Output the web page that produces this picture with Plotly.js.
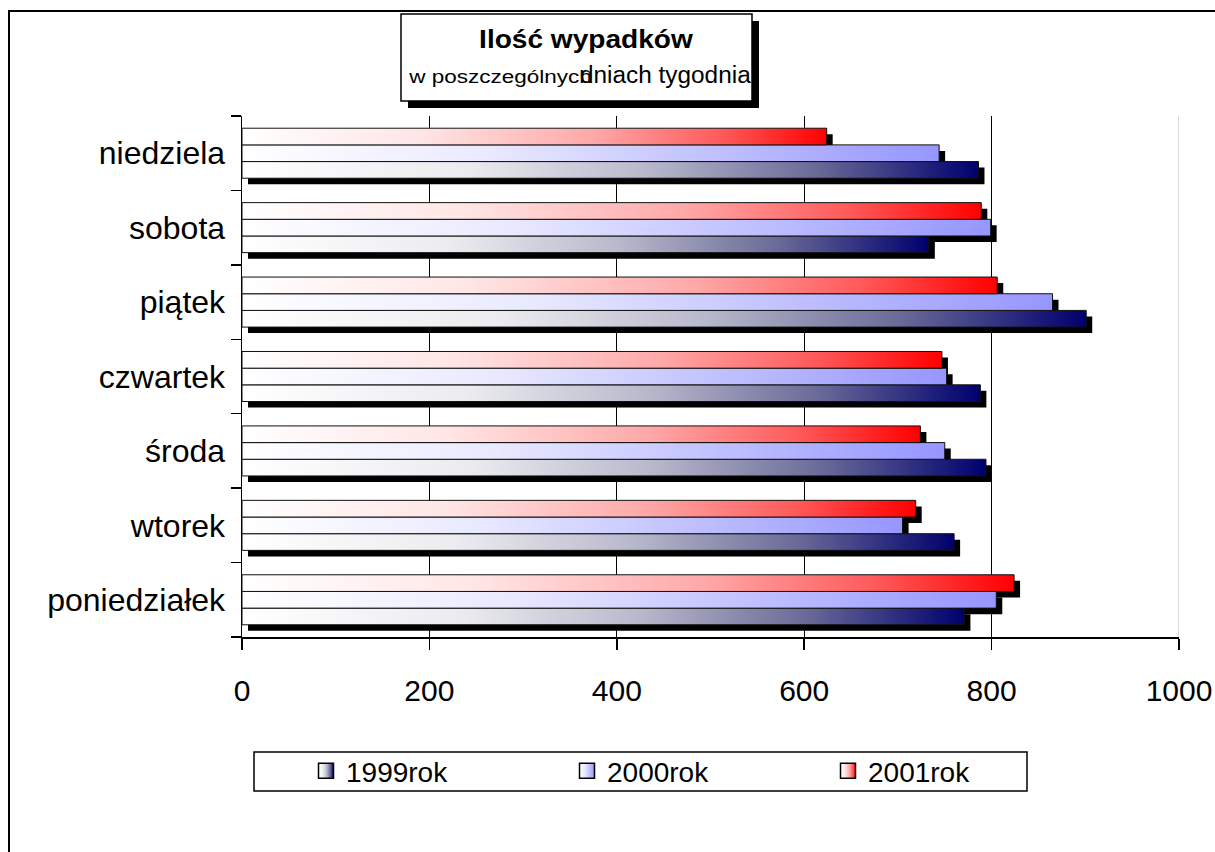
<!DOCTYPE html>
<html><head><meta charset="utf-8">
<script src="https://cdn.plot.ly/plotly-3.0.1.min.js"></script>
<style>body{margin:0;background:#fff}#chart{width:1215px;height:852px}</style>
</head><body><div id="chart"></div>
<script>
// ---- data ----
const days = ['poniedziałek','wtorek','środa','czwartek','piątek','sobota','niedziela'];
const seriesNames = ['1999rok','2000rok','2001rok'];
const v1999 = [771,760,794,788,901,733,786];
const v2000 = [805,705,750,752,865,799,744];
const v2001 = [824,719,724,747,806,789,624];
const xTicks = [0,200,400,600,800,1000];
const titleMain = 'Ilość wypadków';
const titleSub1 = 'w poszczególnych';
const titleSub2 = 'dniach tygodnia';

// ---- style ----
const FONT = 'Liberation Sans, Arial, sans-serif';
const W = 0.224;
const offsets = [-0.336, -0.112, 0.112];
const SH_DX = 6.4, SH_DY = 0.081;
const series = [v1999, v2000, v2001];
const gradStops = [
  [[0,'#ffffff'],[0.3,'#ececf0'],[0.55,'#b8b8cc'],[0.78,'#6a6a98'],[1,'#00006e']],
  [[0,'#ffffff'],[0.35,'#eaeaff'],[0.65,'#c4c4ff'],[1,'#9696ff']],
  [[0,'#ffffff'],[0.3,'#ffe6e6'],[0.6,'#ffa8a8'],[0.82,'#ff5a5a'],[1,'#ff0000']]
];
const baseColors = ['#00006e','#9696ff','#ff0000'];

const L = 242, R = 1179, T = 116, B = 637;
const px = x => (x - L) / (R - L);
const py = y => (B - y) / (B - T);

const traces = [];
series.forEach((vals, i) => {
  traces.push({
    type: 'bar', orientation: 'h', y: days, x: vals, base: SH_DX,
    width: W, offset: offsets[i] - SH_DY,
    marker: {color: '#000000', line: {width: 0}},
    showlegend: false, hoverinfo: 'skip'
  });
});
series.forEach((vals, i) => {
  traces.push({
    type: 'bar', orientation: 'h', y: days, x: vals, name: seriesNames[i],
    width: W, offset: offsets[i],
    marker: {color: baseColors[i], line: {width: 1, color: '#111111'}}
  });
});

const shapes = [
  // outer border
  {type:'rect', xref:'paper', yref:'paper', x0:px(9), x1:px(1225), y0:py(11), y1:py(870),
   line:{color:'#000', width:2}, fillcolor:'rgba(0,0,0,0)', layer:'below'},
  // gray right border line at 1000
  {type:'line', xref:'x', yref:'paper', x0:1000, x1:1000, y0:0, y1:1,
   line:{color:'#b4b4b4', width:1}, layer:'above'},
  // title box shadow
  {type:'rect', xref:'paper', yref:'paper', x0:px(408), x1:px(759), y0:py(21), y1:py(108),
   line:{width:0}, fillcolor:'#000'},
  // title box
  {type:'rect', xref:'paper', yref:'paper', x0:px(401), x1:px(752), y0:py(14), y1:py(101),
   line:{color:'#000', width:1.5}, fillcolor:'#fff'},
  // legend box
  {type:'rect', xref:'paper', yref:'paper', x0:px(254), x1:px(1027), y0:py(752), y1:py(791),
   line:{color:'#000', width:1.5}, fillcolor:'#fff', layer:'below'}
];

const annotations = [
  {xref:'paper', yref:'paper', x:px(586), y:py(39), xanchor:'center', yanchor:'middle', align:'center',
   text:'<b>'+titleMain+'</b>', showarrow:false, font:{family:FONT, size:26, color:'#000'}},
  {xref:'paper', yref:'paper', x:px(406), y:py(77), xanchor:'left', yanchor:'middle', align:'left',
   text:titleSub1, showarrow:false, font:{family:FONT, size:18, color:'#000'}},
  {xref:'paper', yref:'paper', x:px(578), y:py(75), xanchor:'left', yanchor:'middle', align:'left',
   text:titleSub2, showarrow:false, font:{family:FONT, size:23, color:'#000'}}
];
// horizontal stretch of the title texts (the reference renders them wider)
const stretch = [[1.08,'center'],[1.25,'left'],[1.06,'left']];

const layout = {
  width: 1215, height: 852,
  margin: {l: L, r: 1215 - R, t: T, b: 852 - B, pad: 0},
  paper_bgcolor: '#fff', plot_bgcolor: '#fff',
  barmode: 'overlay',
  font: {family: FONT, color: '#000'},
  showlegend: true,
  xaxis: {
    range: [0, 1000], tickvals: xTicks, ticktext: xTicks.map(String),
    ticks: 'outside', ticklen: 11, tickwidth: 1.5, tickcolor: '#000',
    showgrid: true, gridcolor: '#000', gridwidth: 1,
    showline: true, linecolor: '#000', linewidth: 1.5, zeroline: false,
    tickfont: {family: FONT, size: 30, color: '#000'}, ticklabelstandoff: 15,
    fixedrange: true
  },
  yaxis: {
    type: 'category', categoryorder: 'array', categoryarray: days,
    range: [-0.5, 6.5], tickson: 'boundaries',
    ticks: 'outside', ticklen: 10, tickwidth: 1.5, tickcolor: '#000',
    showgrid: false, showline: true, linecolor: '#000', linewidth: 1.5, zeroline: false,
    tickfont: {family: FONT, size: 32, color: '#000'}, ticklabelstandoff: 9,
    fixedrange: true
  },
  legend: {
    orientation: 'h', x: px(306), xanchor: 'left', y: py(771), yanchor: 'middle',
    borderwidth: 0, bgcolor: 'rgba(0,0,0,0)',
    font: {family: FONT, size: 28, color: '#000'},
    entrywidth: 216, entrywidthmode: 'pixels', itemwidth: 30,
    traceorder: 'normal', itemclick: false, itemdoubleclick: false
  },
  shapes: shapes,
  annotations: annotations
};

const gd = document.getElementById('chart');
Plotly.newPlot(gd, traces, layout, {displayModeBar: false, staticPlot: true}).then(() => {
  const ns = 'http://www.w3.org/2000/svg';
  const svg = gd.querySelector('svg.main-svg');
  let defs = svg.querySelector('defs');
  if (!defs) { defs = document.createElementNS(ns, 'defs'); svg.insertBefore(defs, svg.firstChild); }
  gradStops.forEach((stops, i) => {
    const lg = document.createElementNS(ns, 'linearGradient');
    lg.setAttribute('id', 'barGrad' + i);
    lg.setAttribute('x1', '0'); lg.setAttribute('y1', '0');
    lg.setAttribute('x2', '1'); lg.setAttribute('y2', '0');
    stops.forEach(([o, c]) => {
      const s = document.createElementNS(ns, 'stop');
      s.setAttribute('offset', o); s.setAttribute('stop-color', c);
      lg.appendChild(s);
    });
    defs.appendChild(lg);
  });
  const barTraces = gd.querySelectorAll('.barlayer .trace');
  barTraces.forEach((g, idx) => {
    if (idx >= 3) {
      g.querySelectorAll('path').forEach(p => { p.style.fill = 'url(#barGrad' + (idx - 3) + ')'; });
    }
  });
  const legItems = gd.querySelectorAll('.legend .traces');
  legItems.forEach((g, idx) => {
    g.querySelectorAll('.legendpoints path').forEach(p => {
      p.style.fill = 'url(#barGrad' + idx + ')';
      p.setAttribute('d', 'M7.5,7.5H-7.5V-7.5H7.5Z');
      p.style.stroke = '#000'; p.style.strokeWidth = '1.5px';
    });
  });
  const annTexts = gd.querySelectorAll('.annotation text.annotation-text');
  annTexts.forEach((t, i) => {
    if (!stretch[i]) return;
    const [s, anchor] = stretch[i];
    const bb = t.getBBox();
    const ax = anchor === 'center' ? bb.x + bb.width / 2 : bb.x;
    t.setAttribute('transform', 'translate(' + (ax * (1 - s)) + ',0) scale(' + s + ',1)');
  });
});
</script>
</body></html>
